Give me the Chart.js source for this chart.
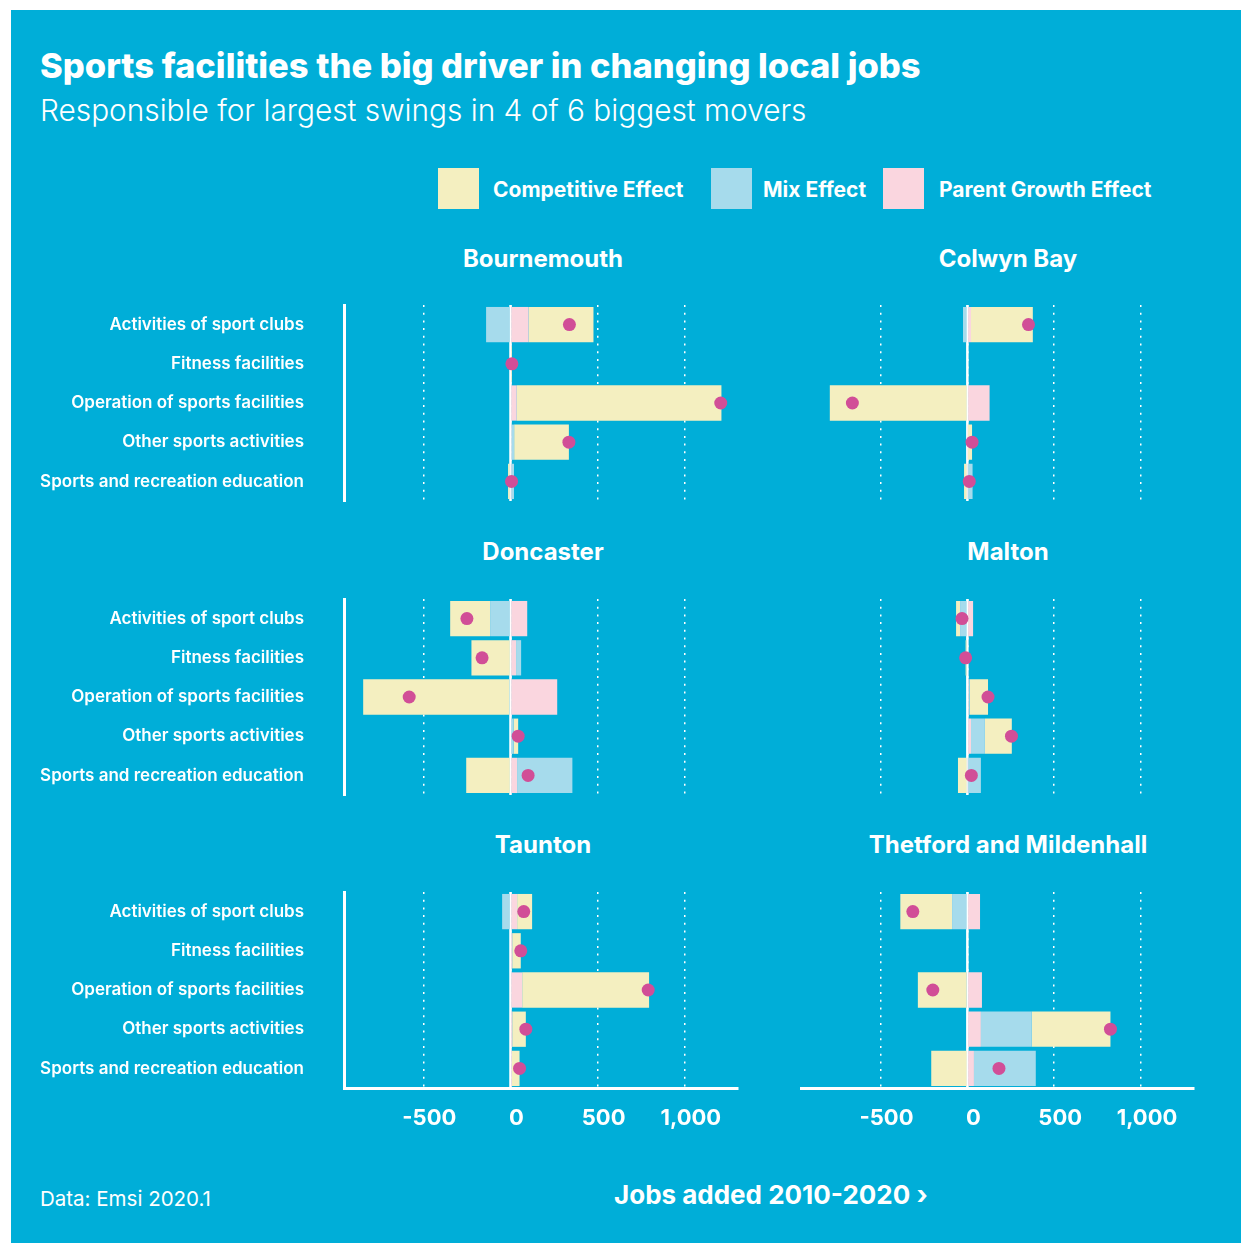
<!DOCTYPE html>
<html>
<head>
<meta charset="utf-8">
<script src="https://cdn.jsdelivr.net/npm/chart.js@4.4.0/dist/chart.umd.min.js"></script>
<style>
  body { margin: 0; width: 1241px; height: 1243px; position: relative; overflow: hidden; background: #fff; color: #fff; font-family: Inter, "Open Sans", sans-serif; }
  .bg { position: absolute; left: 11px; top: 10px; width: 1230px; height: 1233px; background: #00AED8; }
  .txt { position: absolute; line-height: 1; white-space: nowrap; }
  .sw { position: absolute; top: 168px; width: 41px; height: 41px; }
  .ptitle { position: absolute; font-weight: 700; font-size: 24px; line-height: 1; white-space: nowrap; transform: translateX(-50%); }
  .panel { position: absolute; }
</style>
</head>
<body>
<div class="bg"></div>

<div class="txt" style="left:40px; top:49px; font-size:34.5px; font-weight:800;">Sports facilities the big driver in changing local jobs</div>
<div class="txt" style="left:40px; top:96px; font-size:29.8px; font-weight:300;">Responsible for largest swings in 4 of 6 biggest movers</div>

<div class="sw" style="left:438px; background:#F4EFC0;"></div>
<div class="txt" style="left:493px; top:178.5px; font-size:21px; font-weight:700;">Competitive Effect</div>
<div class="sw" style="left:711px; background:#A6DBEC;"></div>
<div class="txt" style="left:763px; top:178.5px; font-size:21px; font-weight:700;">Mix Effect</div>
<div class="sw" style="left:883px; background:#FAD6DF;"></div>
<div class="txt" style="left:939px; top:178.5px; font-size:21px; font-weight:700;">Parent Growth Effect</div>

<div class="txt" style="left:40px; top:1189px; font-size:20.5px; font-weight:400;">Data: Emsi 2020.1</div>
<div class="txt" style="left:614px; top:1182px; font-size:26px; font-weight:700;">Jobs added 2010-2020 ›</div>

<script>
// Data
const categories = [
  "Activities of sport clubs",
  "Fitness facilities",
  "Operation of sports facilities",
  "Other sports activities",
  "Sports and recreation education"
];
const places = ["Bournemouth", "Colwyn Bay", "Doncaster", "Malton", "Taunton", "Thetford and Mildenhall"];

// one row per place, one value per category (null = no data)
const competitiveEffect = [
  [372, 4, 1174, 314, -14],
  [356, null, -788, 25, -19],
  [-229, -224, -839, 26, -254],
  [-23, -8, 106, 155, -54],
  [86, 49, 728, 78, 44],
  [-298, null, -283, 453, -208]
];
const mixEffect = [
  [-140, 0, -4, 15, 18],
  [-25, null, -4, 0, 28],
  [-117, 29, -6, 14, 317],
  [-42, -2, 5, 80, 76],
  [-48, 0, -4, 0, 0],
  [-88, null, -2, 293, 356]
];
const parentGrowthEffect = [
  [104, 4, 36, 6, 2],
  [21, null, 128, 2, 2],
  [96, 32, 268, 4, 38],
  [33, 0, 8, 21, 2],
  [38, 10, 67, 10, 8],
  [73, null, 84, 78, 38]
];
const jobsAdded = [
  [338, 8, 1206, 335, 6],
  [352, null, -662, 27, 11],
  [-250, -163, -581, 44, 101],
  [-31, -10, 119, 254, 23],
  [76, 59, 790, 88, 52],
  [-314, null, -199, 824, 182]
];
const tickValues = [-500, 0, 500, 1000];

const FONT = "Inter, 'Open Sans', sans-serif";
const colors = { competitive: "#F4EFC0", mix: "#A6DBEC", parent: "#FAD6DF", dot: "#D14E97" };

// white line at zero, under the bars
const zeroLine = {
  id: "zeroLine",
  beforeDatasetsDraw(chart) {
    const ctx = chart.ctx;
    const x = chart.scales.x.getPixelForValue(0);
    ctx.save();
    ctx.strokeStyle = "#fff";
    ctx.lineWidth = 2.5;
    ctx.beginPath();
    ctx.moveTo(x, chart.chartArea.top);
    ctx.lineTo(x, chart.chartArea.bottom);
    ctx.stroke();
    ctx.restore();
  }
};

const panelTops = [290, 584, 877];
const titleTops = [247, 540, 833];

places.forEach((place, i) => {
  const isLeft = i % 2 === 0;
  const row = Math.floor(i / 2);
  const isBottom = row === 2;

  const width = isLeft ? 760 : 420;
  const height = isBottom ? 256 : 222;

  const div = document.createElement("div");
  div.className = "panel";
  div.style.left = (isLeft ? 0 : 795) + "px";
  div.style.top = panelTops[row] + "px";
  const canvas = document.createElement("canvas");
  canvas.width = width;
  canvas.height = height;
  div.appendChild(canvas);
  document.body.appendChild(div);

  const title = document.createElement("div");
  title.className = "ptitle";
  title.style.left = (isLeft ? 543 : 1008) + "px";
  title.style.top = titleTops[row] + "px";
  title.textContent = place;
  document.body.appendChild(title);

  new Chart(canvas, {
    type: "bar",
    data: {
      labels: categories,
      datasets: [
        {
          type: "line",
          label: "Jobs added",
          data: jobsAdded[i],
          showLine: false,
          pointRadius: 6.5,
          pointHoverRadius: 6.5,
          pointBackgroundColor: colors.dot,
          pointBorderWidth: 0,
          stack: "total",
          order: 0
        },
        { label: "Parent Growth Effect", data: parentGrowthEffect[i], backgroundColor: colors.parent, order: 1 },
        { label: "Mix Effect", data: mixEffect[i], backgroundColor: colors.mix, order: 1 },
        { label: "Competitive Effect", data: competitiveEffect[i], backgroundColor: colors.competitive, order: 1 }
      ]
    },
    options: {
      indexAxis: "y",
      responsive: false,
      animation: false,
      events: [],
      datasets: { bar: { barPercentage: 0.9, categoryPercentage: 1, borderWidth: 0 } },
      layout: {
        padding: {
          left: isLeft ? 0 : 4,
          right: isLeft ? 22 : 21,
          top: 15,
          bottom: isBottom ? 0 : 11
        }
      },
      plugins: { legend: { display: false }, tooltip: { enabled: false } },
      scales: {
        x: {
          type: "linear",
          stacked: true,
          min: -955,
          max: 1305,
          afterBuildTicks: (s) => { s.ticks = tickValues.map((v) => ({ value: v })); },
          afterFit: (s) => { s.height = isBottom ? 45 : 0; },
          grid: { color: "#fff", lineWidth: 1.5, drawTicks: false },
          border: { display: isBottom, color: "#fff", width: 3, dash: [2, 5.7] },
          ticks: {
            display: isBottom,
            color: "#fff",
            padding: 17,
            labelOffset: 6,
            font: { family: FONT, size: 22, weight: "700" },
            callback: (v) => Number(v).toLocaleString("en-US")
          }
        },
        y: {
          type: "category",
          stacked: true,
          display: isLeft,
          afterFit: (s) => { s.width = isLeft ? 344 : 0; },
          grid: { display: false, drawTicks: true, tickLength: 40 },
          border: { display: true, color: "#fff", width: 3 },
          ticks: {
            color: "#fff",
            padding: 0,
            font: { family: FONT, size: 17, weight: "600" }
          }
        }
      }
    },
    plugins: [zeroLine]
  });
});
</script>
</body>
</html>
